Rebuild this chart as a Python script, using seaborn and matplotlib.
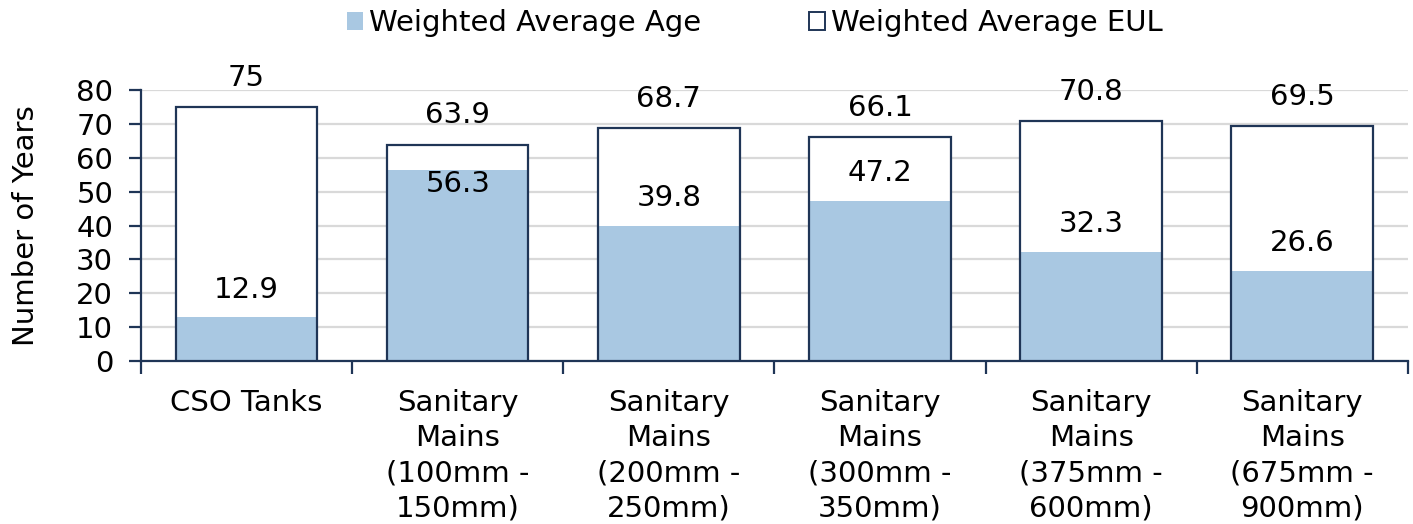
import matplotlib
matplotlib.use("Agg")
import matplotlib.pyplot as plt
from matplotlib.patches import Patch
import seaborn as sns
import pandas as pd

categories = [
    "CSO Tanks",
    "Sanitary\nMains\n(100mm -\n150mm)",
    "Sanitary\nMains\n(200mm -\n250mm)",
    "Sanitary\nMains\n(300mm -\n350mm)",
    "Sanitary\nMains\n(375mm -\n600mm)",
    "Sanitary\nMains\n(675mm -\n900mm)",
]
avg_age = [12.9, 56.3, 39.8, 47.2, 32.3, 26.6]
avg_eul = [75, 63.9, 68.7, 66.1, 70.8, 69.5]
y_ticks = [0, 10, 20, 30, 40, 50, 60, 70, 80]

AGE_COLOR = "#A9C8E2"
EDGE_COLOR = "#1F3556"
GRID_COLOR = "#D9D9D9"
FS = 21

sns.set_theme(style="white")
plt.rcParams["font.family"] = ["DejaVu Sans"]
plt.rcParams["text.color"] = "black"
plt.rcParams["axes.labelcolor"] = "black"
plt.rcParams["xtick.color"] = "black"
plt.rcParams["ytick.color"] = "black"

df = pd.DataFrame({"category": categories, "age": avg_age, "eul": avg_eul})

fig = plt.figure(figsize=(14.13, 5.24), dpi=100)
ax = fig.add_axes([0.0998, 0.311, 0.8965, 0.517])

bw = 0.67
# EUL bar body (white fill hides the gridlines)
sns.barplot(data=df, x="category", y="eul", color="white", edgecolor="none",
            linewidth=0, width=bw, saturation=1, ax=ax, zorder=2)
# Age bar inside it
sns.barplot(data=df, x="category", y="age", color=AGE_COLOR, edgecolor="none",
            linewidth=0, width=bw, saturation=1, ax=ax, zorder=3)
# EUL outline on top
sns.barplot(data=df, x="category", y="eul", fill=False, color=EDGE_COLOR,
            linewidth=1.6, width=bw, ax=ax, zorder=4)

ax.set_xlim(-0.5, len(categories) - 0.5)
ax.set_ylim(0, 80)
ax.set_yticks(y_ticks)
ax.yaxis.grid(True, color=GRID_COLOR, linewidth=1.6, zorder=0)
ax.set_axisbelow(True)

for s in ["top", "right"]:
    ax.spines[s].set_visible(False)
for s in ["left", "bottom"]:
    ax.spines[s].set_color(EDGE_COLOR)
    ax.spines[s].set_linewidth(1.6)

ax.tick_params(axis="y", which="major", length=9, width=1.6, color=EDGE_COLOR,
               labelsize=FS, pad=11, left=True, labelcolor="black")
ax.tick_params(axis="x", which="major", length=0, labelsize=FS, pad=20,
               labelcolor="black")
ax.set_xticks(range(len(categories)))
ax.set_xticklabels(categories, linespacing=1.33)
ax.set_xticks([i - 0.5 for i in range(len(categories) + 1)], minor=True)
ax.tick_params(axis="x", which="minor", length=9, width=1.6, color=EDGE_COLOR,
               bottom=True)
ax.set_xlabel("")
ax.set_ylabel("Number of Years", fontsize=FS, labelpad=26, color="black")

# Value labels
for i, (a, e) in enumerate(zip(avg_age, avg_eul)):
    ax.annotate(f"{e:g}", (i, e), xytext=(0, 21), textcoords="offset points",
                ha="center", va="center", fontsize=FS, zorder=5)
    if e - a < 12:
        ax.annotate(f"{a:g}", (i, a), xytext=(0, -10), textcoords="offset points",
                    ha="center", va="center", fontsize=FS, zorder=5)
    else:
        ax.annotate(f"{a:g}", (i, a), xytext=(0, 20), textcoords="offset points",
                    ha="center", va="center", fontsize=FS, zorder=5)

handles = [
    Patch(facecolor=AGE_COLOR, edgecolor="none"),
    Patch(facecolor="white", edgecolor=EDGE_COLOR, linewidth=1.4),
]
fig.legend(handles, ["Weighted Average Age", "Weighted Average EUL"],
           loc="upper center", bbox_to_anchor=(0.534, 1.032), ncol=2,
           frameon=False, fontsize=FS, handlelength=0.55, handleheight=0.55,
           handletextpad=0.2, columnspacing=3.7)

fig.savefig("out.png", dpi=100)
